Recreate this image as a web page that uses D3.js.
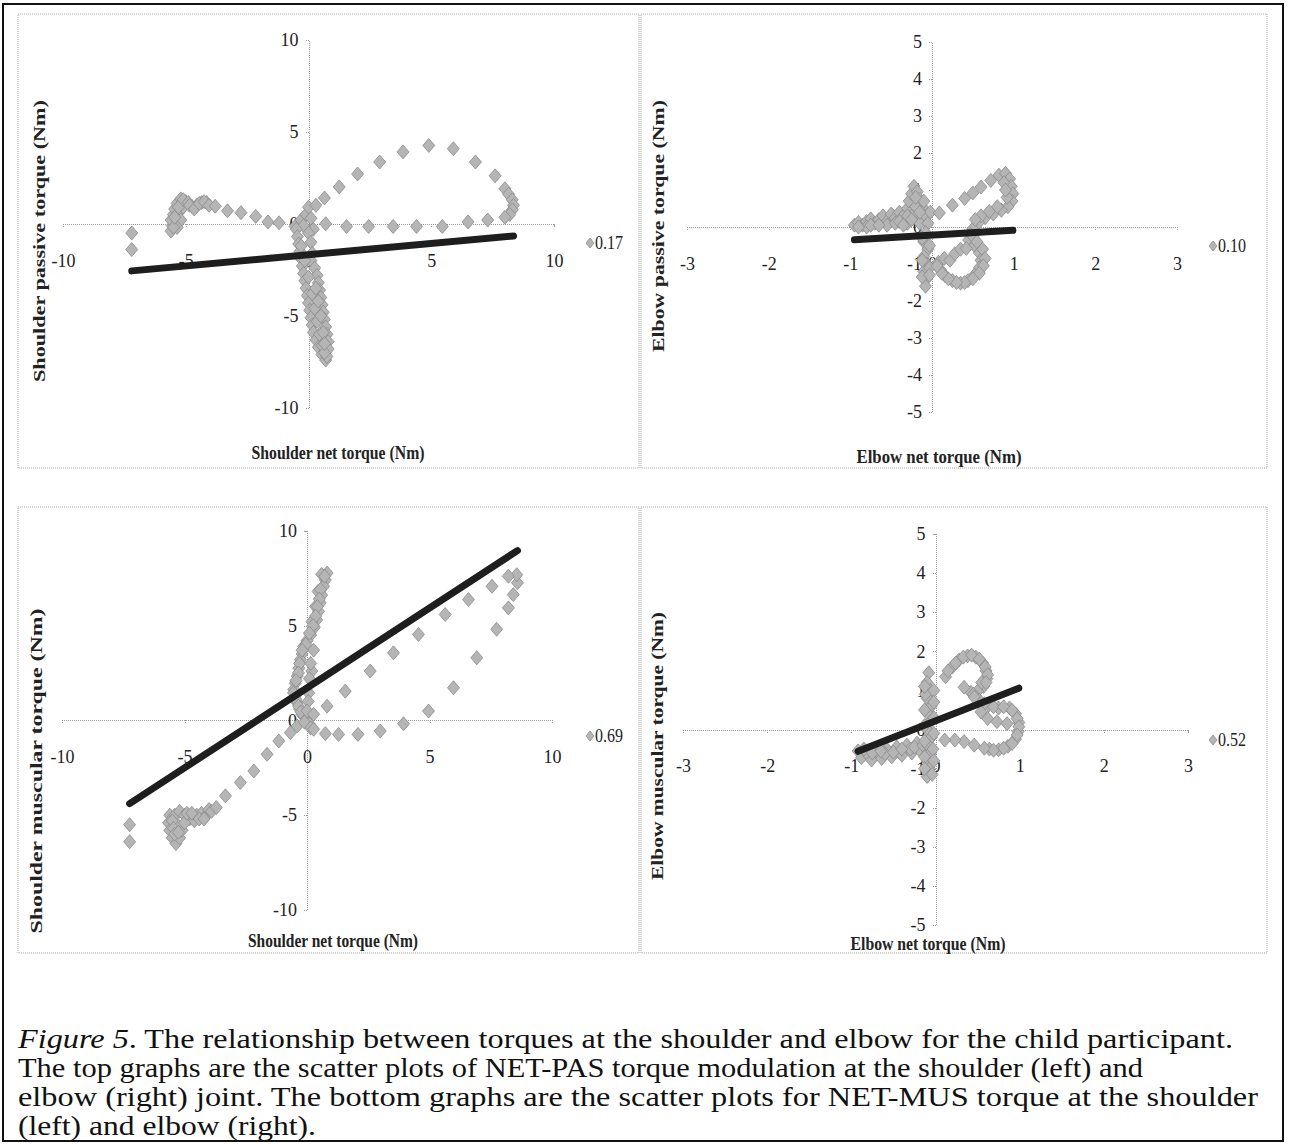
<!DOCTYPE html>
<html>
<head>
<meta charset="utf-8">
<script src="https://cdn.jsdelivr.net/npm/d3@7"></script>
<style>
  body { margin: 0; background: #fff; }
  svg { display: block; }
  .axis path, .axis line { stroke: #9a9a9a; stroke-width: 1; stroke-dasharray: 1,1; shape-rendering: crispEdges; }
  .axis text { font-family: "Liberation Serif", serif; font-size: 18px; fill: #222; }
</style>
</head>
<body>
<svg id="fig"></svg>
<script>
// ---- data ----
// top left: shoulder net torque (x) vs shoulder passive torque (y)
var shoulderPasPts = [
  [-7.2,-0.5],[-7.2,-1.4],
  [-5.6,-0.4],[-5.55,-0.1],[-5.6,0.2],[-5.5,0.5],[-5.45,0.8],[-5.35,1.1],[-5.2,1.35],[-5.0,1.2],
  [-5.3,0.6],[-5.2,0.2],[-5.35,-0.2],[-5.1,0.9],
  [-5.5,-0.2],[-5.45,0.35],[-5.3,0.9],[-5.1,1.3],[-4.9,1.15],[-4.75,0.95],[-4.55,1.0],[-4.35,1.15],[-4.15,1.15],
  [-4.85,1.0],[-4.65,0.8],[-4.45,1.1],[-4.25,1.2],[-4.05,1.0],[-3.8,0.95],[-3.3,0.7],[-2.75,0.6],
  [-2.15,0.4],[-1.65,0.1],[-1.2,0.05],
  [-0.55,-0.15],[-0.3,0.2],[-0.1,0.5],[0.0,0.9],[0.1,0.3],[-0.2,-0.1],[0.2,-0.3],[0.0,-0.5],
  [-0.5,-0.3],[-0.45,-0.7],[-0.4,-1.1],[-0.35,-1.5],[-0.3,-1.9],[-0.25,-2.3],[-0.2,-2.7],[-0.15,-3.1],
  [-0.1,-3.5],[-0.05,-3.9],[0.0,-4.3],[0.05,-4.7],[0.1,-5.1],[0.15,-5.5],[0.2,-5.9],[0.3,-6.3],
  [0.4,-6.7],[0.55,-7.1],[0.7,-7.4],
  [0.1,-1.0],[0.15,-1.6],[0.1,-2.0],[0.25,-2.4],[0.35,-2.8],[0.4,-3.2],[0.45,-3.6],[0.5,-4.0],
  [0.55,-4.4],[0.6,-4.8],[0.65,-5.2],[0.7,-5.6],[0.75,-6.0],[0.8,-6.4],[0.8,-6.8],[0.75,-7.2],
  [-0.3,-1.2],[-0.15,-2.0],[0.0,-2.9],[0.15,-3.8],[0.25,-4.6],[0.35,-5.3],[0.45,-6.0],[0.55,-6.6],
  [0.65,-7.0],[0.3,-3.5],[0.4,-4.2],[0.5,-5.0],[0.6,-5.9],[0.65,-6.5],
  [0.3,1.0],[0.65,1.4],[1.25,2.0],[2.0,2.7],[2.9,3.35],[3.85,3.9],[4.9,4.25],[5.9,4.07],[6.8,3.35],
  [7.6,2.6],[8.0,1.9],[8.15,1.6],[8.3,1.3],[8.35,1.0],[8.3,0.75],[8.2,0.5],[8.0,0.35],[7.3,0.2],
  [6.5,0.1],[5.45,-0.15],[4.4,-0.15],[3.45,-0.15],[2.45,-0.15],[1.55,-0.15],[0.7,0.0]
];
// top right: elbow net torque (x) vs elbow passive torque (y)
var elbowPasPts = [
  [-0.95,0.05],[-0.9,0.12],[-0.85,0.05],[-0.8,0.15],[-0.75,0.22],[-0.7,0.1],[-0.65,0.2],[-0.6,0.3],
  [-0.55,0.15],[-0.5,0.35],[-0.45,0.25],[-0.4,0.4],[-0.35,0.3],[-0.3,0.5],[-0.28,0.7],[-0.25,0.9],
  [-0.22,1.1],[-0.18,0.95],[-0.15,0.75],[-0.12,0.55],[-0.2,0.35],[-0.1,0.3],[-0.15,0.1],[-0.3,0.1],
  [-0.55,0.05],[-0.8,0.0],
  [-0.9,0.0],[-0.75,0.05],[-0.65,0.05],[-0.45,0.1],[-0.4,0.15],[-0.35,0.05],[-0.25,0.3],[-0.3,0.3],
  [-0.2,0.55],[-0.25,0.2],[-0.05,0.1],[-0.02,0.4],[-0.15,0.4],[-0.1,0.7],[-0.2,0.8],
  [-0.08,-0.15],[-0.1,-0.4],[-0.05,-0.6],[-0.1,-0.8],[-0.06,-1.0],[-0.1,-1.2],[-0.07,-1.4],[-0.08,-1.6],
  [-0.12,-0.3],[-0.03,-0.5],[-0.12,-0.9],[-0.03,-1.1],[-0.12,-1.35],[-0.03,-1.3],
  [0.09,0.38],[0.25,0.59],[0.4,0.77],[0.5,0.92],[0.6,1.08],[0.72,1.26],[0.82,1.4],[0.9,1.45],
  [0.95,1.3],[0.97,1.1],[0.99,0.9],[0.98,0.7],[0.93,0.55],[0.85,0.45],[0.75,0.35],[0.65,0.25],
  [0.57,0.12],[0.5,-0.05],[0.47,-0.2],
  [0.88,1.2],[0.92,0.8],[0.9,1.0],[0.8,0.55],[0.7,0.42],[0.6,0.3],[0.53,0.2],
  [0.45,-0.35],[0.52,-0.5],[0.58,-0.7],[0.6,-0.9],[0.58,-1.1],[0.52,-1.3],[0.44,-1.45],[0.35,-1.52],
  [0.25,-1.45],[0.16,-1.32],[0.1,-1.15],[0.08,-0.95],[0.15,-0.85],[0.22,-0.9],[0.28,-0.72],
  [0.35,-0.6],[0.42,-0.58],
  [0.5,-0.25],[0.55,-0.4],[0.62,-0.6],[0.65,-0.85],[0.63,-1.05],[0.58,-1.25],[0.5,-1.4],[0.4,-1.5],
  [0.3,-1.5],[0.2,-1.4],[0.12,-1.25],[0.06,-1.05]
];
// bottom left: shoulder net torque (x) vs shoulder muscular torque (y)
var shoulderMusPts = [
  [-7.24,-5.5],[-7.24,-6.4],
  [-5.6,-5.0],[-5.65,-5.4],[-5.6,-5.8],[-5.5,-6.2],[-5.35,-6.5],[-5.2,-6.2],[-5.1,-5.8],[-5.3,-5.5],
  [-5.4,-5.0],[-5.2,-4.8],[-5.0,-5.0],[-4.8,-5.2],[-4.6,-5.3],[-4.5,-5.0],[-4.3,-4.9],[-4.1,-5.0],
  [-5.5,-5.3],[-5.45,-5.7],[-5.4,-6.0],[-5.25,-5.9],[-5.0,-5.4],[-4.9,-4.9],[-4.7,-4.9],[-4.4,-5.2],
  [-4.2,-5.2],[-4.0,-4.7],
  [-3.9,-4.8],[-3.7,-4.6],[-3.33,-3.98],[-2.72,-3.28],[-2.17,-2.67],[-1.63,-1.79],[-1.15,-1.09],
  [-0.68,-0.65],[-0.4,-0.3],
  [0.82,7.77],[0.75,7.4],[0.68,7.07],[0.6,6.6],[0.54,6.2],[0.47,5.75],[0.4,5.3],[0.3,4.9],[0.15,4.5],
  [0.0,4.2],[-0.14,3.9],[-0.2,3.5],[-0.27,3.2],[-0.33,2.75],[-0.4,2.33],[-0.48,1.95],[-0.54,1.63],
  [-0.5,1.25],[-0.4,0.93],[-0.3,0.6],[-0.2,0.3],[0.0,0.1],[0.1,-0.2],[0.27,3.7],[0.2,2.6],[0.07,1.45],
  [0.6,7.7],[0.45,6.8],[0.35,6.0],[0.2,5.2],
  [0.72,7.6],[0.55,6.9],[0.5,6.4],[0.42,6.0],[0.35,5.5],[0.25,5.0],[0.1,4.6],[-0.05,4.0],[-0.2,3.7],
  [-0.3,3.0],[-0.35,2.5],[-0.45,2.1],[-0.55,1.45],[-0.45,1.1],[-0.35,0.75],[-0.25,0.45],[0.15,3.0],
  [0.1,2.2],[0.05,1.0],[0.0,0.5],[-0.1,-0.1],[0.15,-0.4],
  [0.27,-0.47],[0.75,-0.7],[1.29,-0.74],[2.08,-0.74],[2.99,-0.56],[3.94,-0.18],[4.96,0.49],
  [5.98,1.72],[6.93,3.3],[7.74,4.8],[8.22,5.93],[8.42,6.63],[8.59,7.25],[8.56,7.68],[8.22,7.6],
  [7.55,7.07],[6.59,6.37],[5.64,5.58],[4.55,4.53],[3.53,3.56],[2.58,2.6],[1.56,1.54],[0.82,0.75],
  [0.27,0.32]
];
// bottom right: elbow net torque (x) vs elbow muscular torque (y)
var elbowMusPts = [
  [-0.92,-0.55],[-0.88,-0.72],[-0.82,-0.6],[-0.76,-0.78],[-0.7,-0.55],[-0.64,-0.74],[-0.58,-0.5],
  [-0.52,-0.7],[-0.46,-0.45],[-0.4,-0.66],[-0.34,-0.4],[-0.28,-0.6],[-0.22,-0.35],[-0.18,-0.55],
  [-0.6,-0.62],[-0.3,-0.5],
  [-0.85,-0.5],[-0.75,-0.6],[-0.65,-0.55],[-0.5,-0.58],[-0.4,-0.5],[-0.25,-0.45],[-0.15,-0.4],
  [-0.08,1.45],[-0.1,1.2],[-0.06,1.0],[-0.1,0.8],[-0.05,0.6],[-0.09,0.4],[-0.06,0.2],[-0.1,0.0],
  [-0.05,-0.2],[-0.09,-0.4],[-0.06,-0.6],[-0.1,-0.8],[-0.07,-1.0],[-0.1,-1.2],[-0.12,0.9],
  [-0.02,0.3],[-0.03,-0.5],
  [-0.13,1.1],[-0.02,1.0],[-0.13,0.5],[-0.02,0.7],[-0.13,0.1],[-0.02,-0.1],[-0.13,-0.3],[-0.02,-0.8],
  [-0.13,-0.7],[-0.04,-1.15],[-0.13,-1.0],
  [0.12,1.35],[0.2,1.6],[0.28,1.78],[0.38,1.88],[0.48,1.85],[0.56,1.7],[0.6,1.5],[0.61,1.3],
  [0.57,1.1],[0.5,0.98],[0.42,0.95],[0.34,1.08],
  [0.15,1.5],[0.24,1.7],[0.33,1.85],[0.43,1.9],[0.52,1.8],[0.59,1.6],[0.62,1.4],[0.55,1.2],[0.6,1.2],
  [0.45,0.9],[0.52,0.75],[0.63,0.62],[0.75,0.55],[0.88,0.55],[0.95,0.4],[0.99,0.18],[0.98,-0.05],
  [0.95,-0.25],[0.86,-0.43],[0.75,-0.52],[0.64,-0.5],
  [0.46,0.83],[0.58,0.66],[0.69,0.58],[0.81,0.58],[0.91,0.49],[0.97,0.28],[0.99,0.07],[0.97,-0.14],
  [0.91,-0.36],[0.81,-0.48],[0.69,-0.53],[0.58,-0.48],[0.46,-0.4],[0.34,-0.31],[0.23,-0.27],
  [0.11,-0.27],[0.62,0.28],[0.73,0.2],[0.85,0.15],[0.54,0.45]
];
// linear trend lines [slope, intercept]
var shoulderPasFit = [0.122, -1.68];
var elbowPasFit = [0.13, -0.219];
var shoulderMusFit = [0.843, 1.71];
var elbowMusFit = [0.846, 0.22];
// R squared labels
var rSquared = ["0.17", "0.10", "0.69", "0.52"];
// ticks
var shoulderTicks = [-10, -5, 0, 5, 10];
var elbowXTicks = [-3, -2, -1, 0, 1, 2, 3];
var elbowYTicks = [-5, -4, -3, -2, -1, 0, 1, 2, 3, 4, 5];
// titles
var xTitles = ["Shoulder net torque (Nm)", "Elbow net torque (Nm)", "Shoulder net torque (Nm)", "Elbow net torque (Nm)"];
var yTitles = ["Shoulder passive torque (Nm)", "Elbow passive torque (Nm)", "Shoulder muscular torque (Nm)", "Elbow muscular torque (Nm)"];
var captionLines = [
  "The relationship between torques at the shoulder and elbow for the child participant.",
  "The top graphs are the scatter plots of NET-PAS torque modulation at the shoulder (left) and",
  "elbow (right) joint.  The bottom graphs are the scatter plots for NET-MUS torque at the shoulder",
  "(left) and elbow (right)."
];

// ---- layout ----
var W = 1289, H = 1144;
var svg = d3.select("#fig").attr("width", W).attr("height", H);
svg.append("rect").attr("width", W).attr("height", H).attr("fill", "#fff");

// outer frame
svg.append("rect")
  .attr("x", 3).attr("y", 4).attr("width", 1280).attr("height", 1137)
  .attr("fill", "none").attr("stroke", "#111").attr("stroke-width", 2);

var panels = [
  { pts: shoulderPasPts, fit: shoulderPasFit, r2: rSquared[0], xDom: [-10, 10], yDom: [-10, 10],
    xTicks: shoulderTicks, yTicks: shoulderTicks, xTitle: xTitles[0], yTitle: yTitles[0],
    box: [18, 14, 639, 468], left: 63, right: 554, top: 39.5, bottom: 408,
    xT: [338, 459, 173], yT: [39, 241, 282], leg: [590, 243] },
  { pts: elbowPasPts, fit: elbowPasFit, r2: rSquared[1], xDom: [-3, 3], yDom: [-5, 5],
    xTicks: elbowXTicks, yTicks: elbowYTicks, xTitle: xTitles[1], yTitle: yTitles[1],
    box: [641, 14, 1267, 468], left: 687, right: 1177, top: 42, bottom: 412,
    xT: [939, 463, 165], yT: [658, 226, 252], leg: [1213, 246] },
  { pts: shoulderMusPts, fit: shoulderMusFit, r2: rSquared[2], xDom: [-10, 10], yDom: [-10, 10],
    xTicks: shoulderTicks, yTicks: shoulderTicks, xTitle: xTitles[2], yTitle: yTitles[2],
    box: [18, 507, 639, 953], left: 62, right: 552, top: 530.7, bottom: 910,
    xT: [333, 947, 170], yT: [36, 771, 325], leg: [590, 736] },
  { pts: elbowMusPts, fit: elbowMusFit, r2: rSquared[3], xDom: [-3, 3], yDom: [-5, 5],
    xTicks: elbowXTicks, yTicks: elbowYTicks, xTitle: xTitles[3], yTitle: yTitles[3],
    box: [641, 507, 1267, 953], left: 683, right: 1188, top: 534, bottom: 925,
    xT: [928, 950, 155], yT: [657, 746, 268], leg: [1213, 740] }
];

var diamond = "M0,-7L6,0L0,7L-6,0Z";
var smallDiamond = "M0,-5L4,0L0,5L-4,0Z";

panels.forEach(function(p) {
  var g = svg.append("g");
  var x = d3.scaleLinear().domain(p.xDom).range([p.left, p.right]);
  var y = d3.scaleLinear().domain(p.yDom).range([p.bottom, p.top]);

  // dotted panel border
  g.append("rect")
    .attr("x", p.box[0]).attr("y", p.box[1])
    .attr("width", p.box[2] - p.box[0]).attr("height", p.box[3] - p.box[1])
    .attr("fill", "none").attr("stroke", "#a8a8a8").attr("stroke-dasharray", "1,1");

  // axes crossing at the origin
  var xAxis = d3.axisBottom(x).tickValues(p.xTicks).tickSize(3).tickSizeOuter(3)
    .tickPadding(27).tickFormat(function(d) { return String(d); });
  g.append("g").attr("class", "axis")
    .attr("transform", "translate(0," + y(0) + ")").call(xAxis);

  var yAxis = d3.axisLeft(y).tickValues(p.yTicks).tickSize(3).tickSizeOuter(3)
    .tickPadding(7).tickFormat(function(d) { return String(d); });
  g.append("g").attr("class", "axis")
    .attr("transform", "translate(" + x(0) + ",0)").call(yAxis);

  // scatter points
  g.append("g").selectAll("path")
    .data(p.pts)
    .join("path")
    .attr("d", diamond)
    .attr("transform", function(d) { return "translate(" + x(d[0]) + "," + y(d[1]) + ")"; })
    .attr("fill", "#b5b5b5")
    .attr("stroke", "#8a8a8a")
    .attr("stroke-width", 0.8);

  // trend line over the data range
  var ext = d3.extent(p.pts, function(d) { return d[0]; });
  var trend = d3.line()
    .x(function(d) { return x(d); })
    .y(function(d) { return y(p.fit[0] * d + p.fit[1]); });
  g.append("path")
    .attr("d", trend(ext))
    .attr("fill", "none")
    .attr("stroke", "#1e1e1e")
    .attr("stroke-width", 7)
    .attr("stroke-linecap", "round");

  // R squared legend
  g.append("path")
    .attr("d", smallDiamond)
    .attr("transform", "translate(" + p.leg[0] + "," + p.leg[1] + ")")
    .attr("fill", "#b5b5b5").attr("stroke", "#8a8a8a").attr("stroke-width", 0.8);
  g.append("text")
    .attr("x", p.leg[0] + 5).attr("y", p.leg[1] + 6)
    .attr("font-family", "Liberation Serif, serif").attr("font-size", 18)
    .attr("fill", "#222")
    .attr("textLength", 28).attr("lengthAdjust", "spacingAndGlyphs")
    .text(p.r2);

  // axis titles
  g.append("text")
    .attr("x", p.xT[0]).attr("y", p.xT[1])
    .attr("text-anchor", "middle")
    .attr("textLength", p.xT[2]).attr("lengthAdjust", "spacingAndGlyphs")
    .attr("font-family", "Liberation Serif, serif").attr("font-size", 18)
    .attr("font-weight", "bold").attr("fill", "#222")
    .text(p.xTitle);

  g.append("text")
    .attr("transform", "translate(" + (p.yT[0] + 6) + "," + p.yT[1] + ") rotate(-90)")
    .attr("text-anchor", "middle")
    .attr("textLength", p.yT[2]).attr("lengthAdjust", "spacingAndGlyphs")
    .attr("font-family", "Liberation Serif, serif").attr("font-size", 17)
    .attr("font-weight", "bold").attr("fill", "#222")
    .text(p.yTitle);
});

// caption
var capLen = [1215, 1125, 1240, 298];
captionLines.forEach(function(line, i) {
  var t = svg.append("text")
    .attr("x", 18).attr("y", 1048 + i * 29)
    .attr("font-family", "Liberation Serif, serif")
    .attr("font-size", 27)
    .attr("fill", "#111")
    .attr("textLength", capLen[i]).attr("lengthAdjust", "spacingAndGlyphs");
  if (i === 0) {
    t.append("tspan").attr("font-style", "italic").text("Figure 5");
    t.append("tspan").text(".  " + line);
  } else {
    t.text(line);
  }
});
</script>
</body>
</html>
